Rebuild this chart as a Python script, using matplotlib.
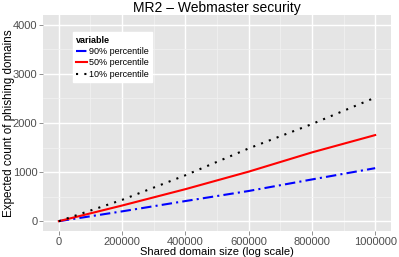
import numpy as np
import matplotlib.pyplot as plt
from matplotlib.ticker import MultipleLocator, FuncFormatter

plt.rcParams['font.family'] = ['Liberation Sans', 'DejaVu Sans']

# values
size = [0, 200000, 400000, 600000, 800000, 1000000]
p90 = [0, 200, 410, 615, 850, 1080]
p50 = [0, 319, 652, 1009, 1401, 1754]
p10 = [0, 434, 935, 1482, 1978, 2518]
labels = ["90% percentile", "50% percentile", "10% percentile"]

W, H = 399, 257
fig = plt.figure(figsize=(W / 100, H / 100), dpi=100)
ax = fig.add_axes([43 / W, 1 - 231 / H, (391 - 43) / W, (231 - 15) / H])
ax.set_facecolor('#E5E5E5')
for s in ax.spines.values():
    s.set_visible(False)

ax.plot(size, p90, color='blue', lw=1.5, ls=(0, (5, 2, 1, 2)), label=labels[0])
ax.plot(size, p50, color='red', lw=1.5, ls='-', label=labels[1])
ax.plot(size, p10, color='black', lw=1.5, ls=(0, (1, 3)), label=labels[2])

ax.set_xlim(-50000, 1050000)
ax.set_ylim(-200, 4200)
ax.xaxis.set_major_locator(MultipleLocator(200000))
ax.xaxis.set_minor_locator(MultipleLocator(100000))
ax.yaxis.set_major_locator(MultipleLocator(1000))
ax.yaxis.set_minor_locator(MultipleLocator(500))
plain = FuncFormatter(lambda v, p: "%d" % round(v))
ax.xaxis.set_major_formatter(plain)
ax.yaxis.set_major_formatter(plain)
ax.grid(which='major', color='white', lw=1.0)
ax.grid(which='minor', color='#F2F2F2', lw=0.5)
ax.set_axisbelow(True)
ax.tick_params(which='major', colors='#7F7F7F', labelcolor='#4D4D4D', labelsize=8, length=3, width=0.6, pad=1)
ax.tick_params(which='minor', length=0)

ax.set_title("MR2 \u2013 Webmaster security", fontsize=10, pad=2)
ax.set_xlabel("Shared domain size (log scale)", fontsize=8, labelpad=0)
ax.set_ylabel("Expected count of phishing domains", fontsize=8.4)
ax.yaxis.set_label_coords(-0.08, 0.5)

leg = ax.legend(title="variable", loc='upper left', bbox_to_anchor=(0.085, 0.92),
                fontsize=6.5, title_fontsize=6.5, frameon=True, fancybox=False,
                edgecolor='white', facecolor='white', framealpha=1,
                handlelength=1.2, handletextpad=0.2, labelspacing=0.25,
                borderpad=0.4, borderaxespad=0)
leg.get_title().set_fontweight('bold')
leg._legend_box.align = 'left'

fig.savefig('out.png', dpi=100)
